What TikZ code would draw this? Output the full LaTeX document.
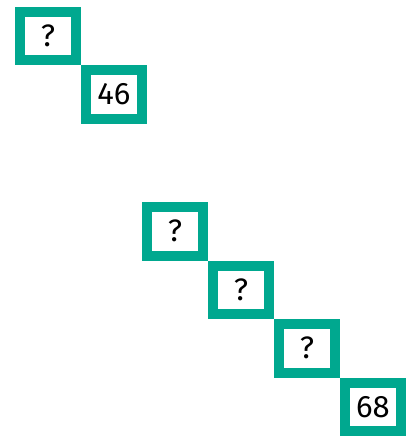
\documentclass[tikz,border=0pt]{standalone}
\usepackage{fontspec}
\setmainfont{Fira Sans}
\usetikzlibrary{positioning}
\definecolor{boxteal}{RGB}{0,168,143}

\begin{document}
\begin{tikzpicture}[x=1pt,y=1pt,
  numbox/.style={draw=boxteal,line width=10pt,outer sep=5pt,inner sep=0pt,
    minimum width=56pt,minimum height=48.5pt,fill=white,
    font=\fontsize{31}{36}\selectfont}]
\useasboundingbox (0,0) rectangle (408,-436);

% upper pair
\node[numbox] (top1) at (48,-36) {?};
\node[numbox,below right=0pt and 0pt of top1] (top2) {46};

% lower chain
\node[numbox] (low1) at (175,-231.25) {?};
\node[numbox,below right=0pt and 0pt of low1] (low2) {?};
\node[numbox,below right=0pt and 0pt of low2] (low3) {?};
\node[numbox,below right=0pt and 0pt of low3] (low4) {68};
\end{tikzpicture}
\end{document}
